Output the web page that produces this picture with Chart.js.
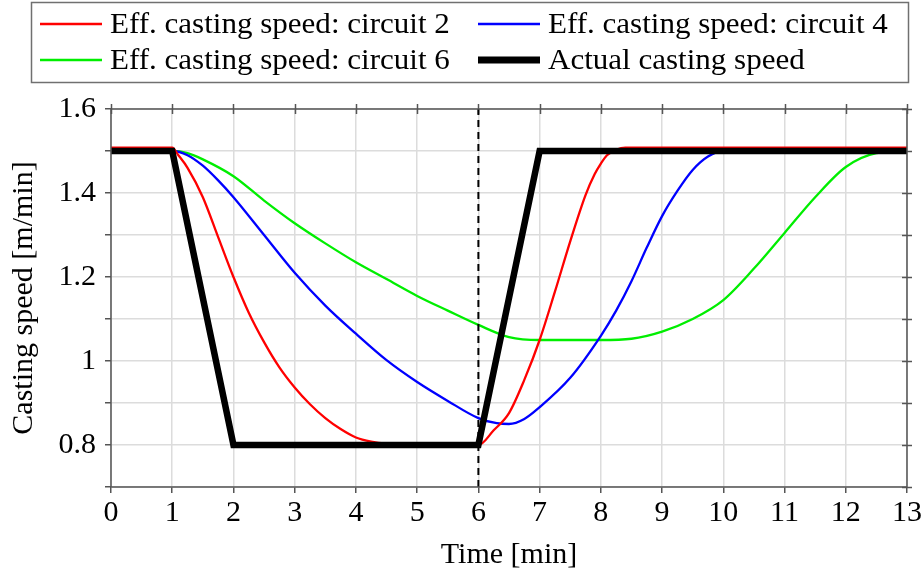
<!DOCTYPE html>
<html>
<head>
<meta charset="utf-8">
<script src="https://cdn.jsdelivr.net/npm/chart.js@4/dist/chart.umd.min.js"></script>
<style>
html,body{margin:0;padding:0;background:#fff;}
#wrap{width:924px;height:575px;}
</style>
</head>
<body>
<div id="wrap"><canvas id="c" width="924" height="575"></canvas></div>
<script>
// ---- data ----
const xTicks = [0,1,2,3,4,5,6,7,8,9,10,11,12,13];
const yTicks = [0.8,1,1.2,1.4,1.6];

const seriesNames = [
  'Eff. casting speed: circuit 2',
  'Eff. casting speed: circuit 4',
  'Eff. casting speed: circuit 6',
  'Actual casting speed'
];

const redX = [0,1,1.1,1.25,1.5,1.75,2,2.25,2.5,2.75,3,3.25,3.5,3.75,4,4.25,4.5,5,6,6.25,6.5,6.75,7,7.25,7.5,7.75,7.9,8,8.1,8.25,8.4,13];
const redY = [1.508,1.508,1.49,1.46,1.39,1.295,1.2,1.115,1.045,0.985,0.937,0.897,0.864,0.838,0.818,0.808,0.803,0.801,0.8,0.835,0.876,0.955,1.05,1.165,1.285,1.395,1.445,1.47,1.49,1.503,1.508,1.508];

const blueX = [0,1,1.25,1.5,1.75,2,2.5,3,3.5,4,4.5,5,5.5,6,6.3,6.5,6.75,7,7.5,8,8.25,8.5,8.75,9,9.25,9.5,9.75,10,13];
const blueY = [1.5,1.5,1.49,1.465,1.43,1.39,1.3,1.21,1.132,1.065,1.002,0.95,0.905,0.864,0.852,0.85,0.862,0.89,0.96,1.06,1.12,1.19,1.27,1.345,1.405,1.455,1.487,1.5,1.5];

const greenX = [0,1,1.25,1.5,2,2.5,3,3.5,4,4.5,5,5.5,6,6.5,7,7.5,8,8.5,9,9.5,10,10.5,11,11.5,12,12.5,13];
const greenY = [1.5,1.5,1.495,1.48,1.44,1.382,1.328,1.28,1.235,1.195,1.155,1.12,1.086,1.057,1.05,1.05,1.05,1.053,1.07,1.1,1.145,1.22,1.305,1.39,1.462,1.495,1.5];

const actualX = [0,1,2,6,7,13];
const actualY = [1.5,1.5,0.8,0.8,1.5,1.5];

const markerX = [6,6];
const markerY = [0.7,1.6];

const seriesColors = ['#ff0000','#0000ff','#00ee00','#000000'];

function pts(xs, ys){ return xs.map((x,i)=>({x:x, y:ys[i]})); }

const FONT = '"Liberation Serif","DejaVu Serif",serif';
const FS = 30;

const legendPlugin = {
  id: 'boxLegend',
  afterDraw(chart){
    const ctx = chart.ctx;
    ctx.save();
    ctx.strokeStyle = '#707070';
    ctx.lineWidth = 1.5;
    ctx.strokeRect(31.5, 2.5, 877, 80);
    const entries = [
      {x:40, y:24, i:0, w:2.5},
      {x:478, y:24, i:1, w:2.5},
      {x:40, y:60, i:2, w:2.5},
      {x:478, y:60, i:3, w:7}
    ];
    ctx.font = '29px ' + FONT;
    ctx.textBaseline = 'middle';
    ctx.fillStyle = '#000';
    entries.forEach(e=>{
      ctx.strokeStyle = seriesColors[e.i];
      ctx.lineWidth = e.w;
      ctx.beginPath();
      ctx.moveTo(e.x, e.y);
      ctx.lineTo(e.x+62, e.y);
      ctx.stroke();
      ctx.save();
      ctx.translate(e.x+70, e.y+1);
      ctx.scale(1.07, 1);
      ctx.fillText(seriesNames[e.i], 0, 0);
      ctx.restore();
    });
    ctx.restore();
  }
};

const framePlugin = {
  id: 'frame',
  beforeDatasetsDraw(chart){
    const {ctx, chartArea:a, scales} = chart;
    ctx.save();
    ctx.strokeStyle = '#555';
    ctx.lineWidth = 1.5;
    for (let i=7; i<=16; i++){
      const y = Math.round(scales.y.getPixelForValue(i/10))+0.5;
      ctx.beginPath(); ctx.moveTo(a.right-5,y); ctx.lineTo(a.right+5,y); ctx.stroke();
    }
    xTicks.forEach(v=>{
      const x = Math.round(scales.x.getPixelForValue(v))+0.5;
      ctx.beginPath(); ctx.moveTo(x,a.top-5); ctx.lineTo(x,a.top+5); ctx.stroke();
    });
    ctx.restore();
  },
  afterDatasetsDraw(chart){
    const {ctx, chartArea:a} = chart;
    ctx.save();
    ctx.strokeStyle = '#555';
    ctx.lineWidth = 1.5;
    ctx.strokeRect(a.left, a.top, a.right-a.left, a.bottom-a.top);
    ctx.restore();
  }
};

new Chart(document.getElementById('c'), {
  type: 'line',
  data: {
    datasets: [
      {label: 'marker', data: pts(markerX, markerY), borderColor:'#000', borderWidth:2, borderDash:[7,5], pointRadius:0, order:-1, tension:0},
      {label: seriesNames[3], data: pts(actualX, actualY), borderColor: seriesColors[3], borderWidth:6.5, pointRadius:0, order:0, tension:0, borderJoinStyle:'miter'},
      {label: seriesNames[0], data: pts(redX, redY), borderColor: seriesColors[0], borderWidth:2.3, pointRadius:0, order:1, cubicInterpolationMode:'monotone'},
      {label: seriesNames[1], data: pts(blueX, blueY), borderColor: seriesColors[1], borderWidth:2.3, pointRadius:0, order:2, cubicInterpolationMode:'monotone'},
      {label: seriesNames[2], data: pts(greenX, greenY), borderColor: seriesColors[2], borderWidth:2.3, pointRadius:0, order:3, cubicInterpolationMode:'monotone'}
    ]
  },
  options: {
    responsive: false,
    animation: false,
    layout: {padding: {top: 109, right: 17, left: 0, bottom: 0}},
    plugins: {legend: {display:false}, tooltip: {enabled:false}},
    scales: {
      x: {
        type: 'linear', min: 0, max: 13,
        afterBuildTicks(s){ s.ticks = xTicks.map(v=>({value:v})); },
        afterFit(s){ s.height = 88; },
        grid: {color:'#dcdcdc', lineWidth:1.5, tickColor:'#555', tickLength:6, drawTicks:true},
        border: {display:false},
        ticks: {color:'#000', font:{family:FONT, size:FS}, padding:2, maxRotation:0, autoSkip:false},
        title: {display:true, text:'Time [min]', color:'#000', font:{family:FONT, size:FS}, padding:{top:0, bottom:2}}
      },
      y: {
        type: 'linear', min: 0.7, max: 1.6,
        afterBuildTicks(s){ const t=[]; for(let i=7;i<=16;i++) t.push({value:i/10}); s.ticks=t; },
        afterFit(s){ s.width = 111; },
        grid: {color:'#dcdcdc', lineWidth:1.5, tickColor:'#555', tickLength:6, drawTicks:true},
        border: {display:false},
        ticks: {color:'#000', font:{family:FONT, size:FS}, padding:9, autoSkip:false,
          callback(v){ const r = Math.round(v*10)/10; return yTicks.some(t=>Math.abs(t-r)<1e-9) ? String(r) : ''; }},
        title: {display:true, text:'Casting speed [m/min]', color:'#000', font:{family:FONT, size:FS}, padding:{top:6, bottom:0}}
      }
    }
  },
  plugins: [legendPlugin, framePlugin]
});
</script>
</body>
</html>
